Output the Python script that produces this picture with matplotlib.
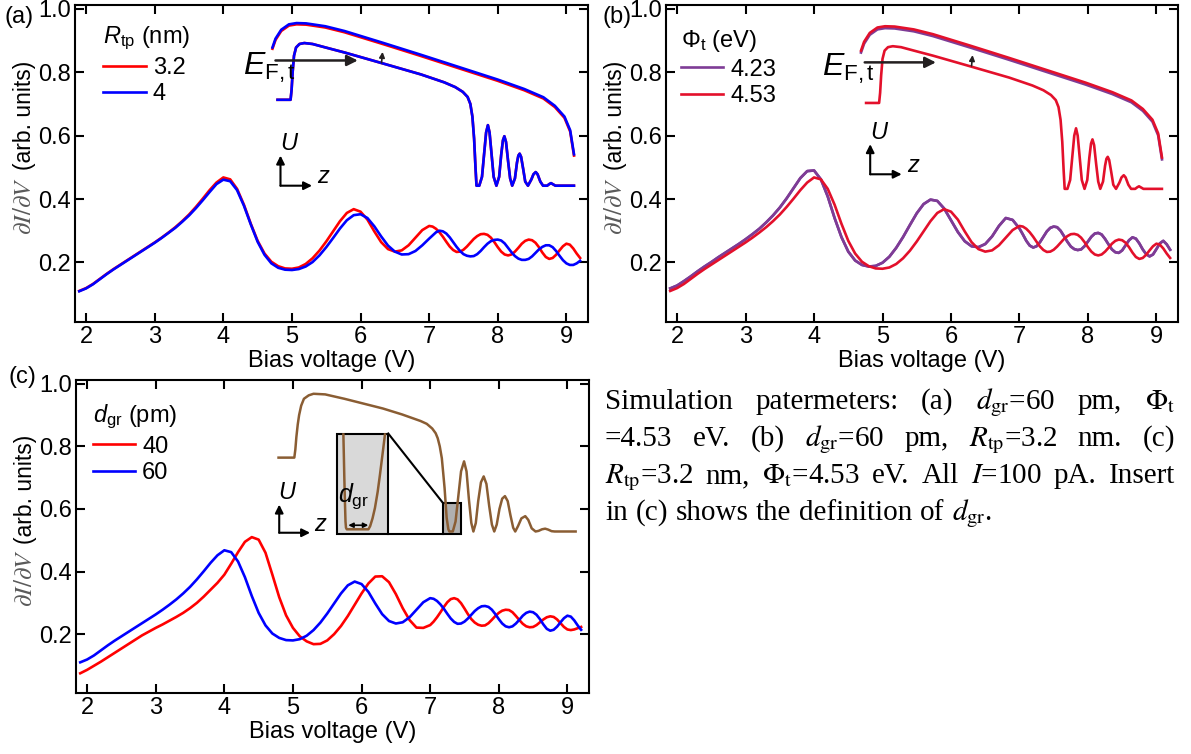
import matplotlib.pyplot as plt
from matplotlib.patches import Rectangle

plt.rcParams['font.family'] = ['Liberation Sans', 'DejaVu Sans']
plt.rcParams['mathtext.fontset'] = 'custom'
plt.rcParams['mathtext.rm'] = 'Liberation Sans'
plt.rcParams['mathtext.it'] = 'Liberation Sans:italic'
plt.rcParams['mathtext.bf'] = 'Liberation Sans:bold'
plt.rcParams['axes.linewidth'] = 1.5

# bias voltage grid (V)
bias_v = [1.9, 2.0, 2.1, 2.2, 2.3, 2.4, 2.5, 2.6, 2.7, 2.8,
          2.9, 3.0, 3.1, 3.2, 3.3, 3.4, 3.5, 3.6, 3.7, 3.8,
          3.9, 4.0, 4.1, 4.2, 4.3, 4.4, 4.5, 4.6, 4.7, 4.8,
          4.9, 5.0, 5.1, 5.2, 5.3, 5.4, 5.5, 5.6, 5.7, 5.8,
          5.9, 6.0, 6.1, 6.2, 6.3, 6.4, 6.5, 6.6, 6.7, 6.8,
          6.9, 7.0,
          7.05, 7.1, 7.15, 7.2, 7.25, 7.3, 7.35, 7.4, 7.45, 7.5,
          7.55, 7.6, 7.65, 7.7, 7.75, 7.8, 7.85, 7.9, 7.95, 8.0,
          8.05, 8.1, 8.15, 8.2, 8.25, 8.3, 8.35, 8.4, 8.45, 8.5,
          8.55, 8.6, 8.65, 8.7, 8.75, 8.8, 8.85, 8.9, 8.95, 9.0,
          9.05, 9.1, 9.15, 9.2]

# dI/dV for d_gr=60 pm, R_tp=3.2 nm, Phi_t=4.53 eV (shared by a, b, c)
didv_ref = [0.110, 0.119, 0.132, 0.148, 0.164, 0.179, 0.193, 0.207, 0.221, 0.235,
            0.249, 0.263, 0.278, 0.294, 0.311, 0.330, 0.351, 0.375, 0.401, 0.428,
            0.452, 0.468, 0.462, 0.432, 0.382, 0.322, 0.268, 0.228, 0.202, 0.188,
            0.181, 0.180, 0.184, 0.195, 0.213, 0.237, 0.266, 0.298, 0.330, 0.356,
            0.368, 0.360, 0.335, 0.298, 0.264, 0.242, 0.234, 0.238, 0.254, 0.278,
            0.302, 0.315,
            0.313, 0.306, 0.295, 0.281, 0.265, 0.250, 0.239, 0.233, 0.234, 0.240,
            0.250, 0.262, 0.274, 0.283, 0.289, 0.290, 0.287, 0.278, 0.264, 0.248,
            0.234, 0.225, 0.222, 0.225, 0.234, 0.246, 0.259, 0.268, 0.272, 0.270,
            0.262, 0.248, 0.231, 0.217, 0.211, 0.214, 0.224, 0.238, 0.251, 0.259,
            0.256, 0.244, 0.228, 0.214]

# (a) R_tp = 4 nm
didv_rtp4 = [0.109, 0.118, 0.131, 0.147, 0.163, 0.178, 0.192, 0.206, 0.220, 0.234,
             0.248, 0.262, 0.277, 0.293, 0.309, 0.328, 0.348, 0.371, 0.396, 0.422,
             0.447, 0.461, 0.456, 0.428, 0.379, 0.320, 0.265, 0.224, 0.197, 0.183,
             0.177, 0.176, 0.179, 0.187, 0.201, 0.222, 0.248, 0.277, 0.307, 0.333,
             0.349, 0.352, 0.340, 0.314, 0.282, 0.253, 0.234, 0.225, 0.226, 0.236,
             0.254, 0.275,
             0.285, 0.295, 0.300, 0.298, 0.291, 0.279, 0.264, 0.249, 0.236, 0.226,
             0.221, 0.219, 0.220, 0.226, 0.236, 0.248, 0.259, 0.267, 0.271, 0.272,
             0.269, 0.260, 0.246, 0.232, 0.220, 0.212, 0.208, 0.208, 0.211, 0.219,
             0.230, 0.241, 0.249, 0.254, 0.254, 0.248, 0.236, 0.221, 0.207, 0.197,
             0.192, 0.192, 0.197, 0.205]

# (b) Phi_t = 4.23 eV
didv_phi423 = [0.118, 0.127, 0.141, 0.156, 0.172, 0.187, 0.201, 0.216, 0.230, 0.244,
               0.258, 0.273, 0.289, 0.306, 0.326, 0.348, 0.373, 0.402, 0.434, 0.466,
               0.488, 0.490, 0.462, 0.408, 0.340, 0.280, 0.234, 0.206, 0.192, 0.187,
               0.189, 0.199, 0.218, 0.246, 0.280, 0.318, 0.355, 0.384, 0.398, 0.394,
               0.370, 0.333, 0.296, 0.267, 0.251, 0.248, 0.258, 0.282, 0.315, 0.340,
               0.334, 0.307,
               0.288, 0.268, 0.253, 0.247, 0.251, 0.264, 0.281, 0.298, 0.309, 0.313,
               0.311, 0.300, 0.283, 0.265, 0.250, 0.242, 0.239, 0.241, 0.251, 0.266,
               0.281, 0.291, 0.293, 0.288, 0.274, 0.257, 0.241, 0.232, 0.230, 0.238,
               0.254, 0.270, 0.279, 0.275, 0.260, 0.241, 0.226, 0.219, 0.225, 0.242,
               0.260, 0.268, 0.257, 0.240]

# (c) d_gr = 40 pm
didv_dgr40 = [0.075, 0.086, 0.099, 0.112, 0.126, 0.140, 0.154, 0.168, 0.182, 0.196,
              0.208, 0.220, 0.231, 0.243, 0.255, 0.268, 0.283, 0.300, 0.320, 0.342,
              0.364, 0.390, 0.425, 0.462, 0.495, 0.510, 0.502, 0.460, 0.390, 0.318,
              0.260, 0.220, 0.193, 0.177, 0.168, 0.169, 0.180, 0.200, 0.226, 0.258,
              0.294, 0.330, 0.362, 0.384, 0.385, 0.366, 0.328, 0.283, 0.245, 0.221,
              0.220, 0.229,
              0.240, 0.254, 0.270, 0.287, 0.302, 0.312, 0.315, 0.311, 0.299, 0.282,
              0.264, 0.248, 0.237, 0.230, 0.227, 0.228, 0.235, 0.246, 0.258, 0.268,
              0.275, 0.278, 0.277, 0.270, 0.258, 0.245, 0.233, 0.225, 0.222, 0.223,
              0.229, 0.238, 0.247, 0.254, 0.257, 0.255, 0.247, 0.235, 0.223, 0.215,
              0.213, 0.215, 0.219, 0.223]

# inset sketch: tunnelling barrier (upper) and barrier with graphene well (lower)
barrier_top_z = [4.716, 4.761, 4.844, 4.956, 5.067, 5.207, 5.486, 5.765, 6.322,
                 6.880, 7.438, 7.996, 8.386, 8.665, 8.832, 8.972, 9.055, 9.111]
barrier_top_u = [0.878, 0.906, 0.934, 0.951, 0.955, 0.954, 0.945, 0.930, 0.893,
                 0.855, 0.816, 0.777, 0.747, 0.721, 0.694, 0.660, 0.617, 0.541]

barrier_low_z = [4.79, 4.98, 4.995, 5.01, 5.03, 5.06, 5.11, 5.18, 5.30, 5.49,
                 5.77, 6.32, 6.88, 7.22, 7.38, 7.49, 7.56, 7.60, 7.63, 7.655,
                 7.675, 7.69, 7.73, 7.77, 7.80, 7.83, 7.856, 7.88, 7.91, 7.94,
                 7.98, 8.02, 8.05, 8.075, 8.096, 8.12, 8.15, 8.18, 8.21, 8.25,
                 8.28, 8.30, 8.319, 8.34, 8.37, 8.40, 8.44, 8.49, 8.52, 8.553,
                 8.58, 8.62, 8.66, 8.72, 8.75, 8.776, 8.80, 8.84, 8.89, 9.11]
barrier_low_u = [0.713, 0.713, 0.745, 0.800, 0.852, 0.878, 0.889, 0.892, 0.889, 0.878,
                 0.862, 0.828, 0.793, 0.768, 0.753, 0.738, 0.722, 0.700, 0.660, 0.590,
                 0.500, 0.442, 0.442, 0.470, 0.540, 0.610, 0.633, 0.610, 0.540, 0.470,
                 0.442, 0.470, 0.540, 0.585, 0.598, 0.580, 0.520, 0.465, 0.442, 0.465,
                 0.515, 0.537, 0.543, 0.533, 0.495, 0.455, 0.442, 0.462, 0.478, 0.485,
                 0.478, 0.455, 0.442, 0.442, 0.447, 0.450, 0.447, 0.442, 0.442, 0.442]

# (c) inset potential
pot_c_z = [4.79, 5.02, 5.035, 5.05, 5.07, 5.09, 5.12, 5.16, 5.23, 5.30,
           5.47, 5.75, 6.31, 6.59, 6.86, 6.95, 7.03, 7.08, 7.11, 7.14,
           7.17, 7.19, 7.21, 7.24, 7.265, 7.28, 7.33, 7.37, 7.41, 7.45,
           7.494, 7.53, 7.565, 7.60, 7.63, 7.665, 7.70, 7.74, 7.78, 7.82,
           7.86, 7.90, 7.934, 7.97, 8.01, 8.05, 8.09, 8.13, 8.17, 8.21,
           8.24, 8.28, 8.33, 8.386, 8.43, 8.48, 8.536, 8.58, 8.63, 8.676,
           8.72, 8.77, 8.815, 9.12]
pot_c_u = [0.764, 0.764, 0.790, 0.830, 0.870, 0.900, 0.930, 0.952, 0.963, 0.968,
           0.966, 0.952, 0.921, 0.902, 0.881, 0.872, 0.857, 0.842, 0.826, 0.800,
           0.762, 0.715, 0.667, 0.572, 0.535, 0.528, 0.528, 0.560, 0.640, 0.720,
           0.752, 0.720, 0.630, 0.555, 0.528, 0.555, 0.625, 0.685, 0.704, 0.680,
           0.610, 0.550, 0.528, 0.550, 0.600, 0.633, 0.641, 0.625, 0.580, 0.540,
           0.528, 0.545, 0.570, 0.577, 0.565, 0.538, 0.528, 0.530, 0.535, 0.537,
           0.534, 0.529, 0.528, 0.528]

# magnified well drawn inside the big grey box
well_z = [5.735, 5.742, 5.749, 5.758, 5.766, 5.773, 5.785, 6.100, 6.125, 6.160,
          6.195, 6.235, 6.268, 6.300, 6.316, 6.341]
well_u = [0.838, 0.770, 0.698, 0.620, 0.560, 0.540, 0.535, 0.535, 0.545, 0.570,
          0.603, 0.655, 0.709, 0.765, 0.793, 0.838]

RED = '#ff0000'
BLUE = '#0000ff'
PURPLE = '#7e3c96'
CRIMSON = '#e3102b'
BROWN = '#8a5d33'
DARK = '#231f20'
FS = 17

fig = plt.figure(figsize=(11.91, 7.54), dpi=100)
W, H = 1191, 754
ax_a = fig.add_axes([75 / W, 1 - 322 / H, 513 / W, 317 / H])
ax_b = fig.add_axes([666 / W, 1 - 322 / H, 512 / W, 317 / H])
ax_c = fig.add_axes([76 / W, 1 - 693 / H, 513 / W, 313 / H])


def style(ax):
    ax.set_xlim(1.838, 9.315)
    ax.set_ylim(0.012, 1.012)
    ax.set_xticks(range(2, 10))
    ax.set_yticks([0.2, 0.4, 0.6, 0.8, 1.0])
    ax.set_yticklabels(['0.2', '0.4', '0.6', '0.8', '1.0'])
    ax.tick_params(direction='in', top=True, right=True, length=6.5, width=1.5,
                   labelsize=FS, pad=3)
    ax.set_xlabel('Bias voltage (V)', fontsize=FS, labelpad=1)
    ax.text(-0.099, 0.366, r'$\partial I/\partial V$', transform=ax.transAxes,
            rotation=90, ha='center', va='center', fontsize=18, color='#5a5a5a',
            math_fontfamily='stix')
    ax.text(-0.099, 0.652, '(arb. units)', transform=ax.transAxes,
            rotation=90, ha='center', va='center', fontsize=16.5)


def uz_axes(ax, x0, y0, dx, dy, u_xy, z_xy):
    ap = dict(arrowstyle='-|>', color='k', lw=1.5, mutation_scale=12,
              shrinkA=0, shrinkB=0)
    ax.annotate('', xy=(x0, y0 + dy), xytext=(x0, y0), arrowprops=ap)
    ax.annotate('', xy=(x0 + dx, y0), xytext=(x0, y0), arrowprops=ap)
    ax.text(u_xy[0], u_xy[1], '$U$', fontsize=17, ha='center', va='center')
    ax.text(z_xy[0], z_xy[1], '$z$', fontsize=17, ha='center', va='center')


def fermi_arrow(ax, x0, x1, y, e_xy, tick_xy):
    ax.annotate('', xy=(x1, y), xytext=(x0, y),
                arrowprops=dict(arrowstyle='-|>', color=DARK, lw=1.8,
                                mutation_scale=16, shrinkA=0, shrinkB=0))
    ax.annotate('', xy=(tick_xy[0] + 0.015, tick_xy[1] + 0.034), xytext=tick_xy,
                arrowprops=dict(arrowstyle='-|>', color=DARK, lw=1.2,
                                mutation_scale=8, shrinkA=0, shrinkB=0))
    ax.text(e_xy[0], e_xy[1], r'$E_{\mathrm{F,t}}$', fontsize=23,
            ha='center', va='center')


def legend(ax, handles, labels, title, anchor):
    ax.legend(handles, labels, title=title, loc='upper left',
              bbox_to_anchor=anchor, bbox_transform=ax.transData,
              frameon=False, fontsize=FS, title_fontsize=FS,
              handlelength=1.8, handletextpad=0.3, labelspacing=0.2,
              borderpad=0, borderaxespad=0, alignment='left')


for ax in (ax_a, ax_b, ax_c):
    style(ax)

# ---- (a)
la1, = ax_a.plot(bias_v, didv_ref, color=RED, lw=1.9)
la2, = ax_a.plot(bias_v, didv_rtp4, color=BLUE, lw=1.9)
legend(ax_a, [la1, la2], ['3.2', '4'], r'$R_{\mathrm{tp}}$ (nm)', (2.25, 0.95))
ax_a.plot(barrier_top_z, [u - 0.004 for u in barrier_top_u], color=RED, lw=1.9)
ax_a.plot(barrier_top_z, barrier_top_u, color=BLUE, lw=1.9)
ax_a.plot(barrier_low_z, barrier_low_u, color=RED, lw=1.9)
ax_a.plot(barrier_low_z, barrier_low_u, color=BLUE, lw=1.9)
fermi_arrow(ax_a, 4.76, 5.96, 0.837, (4.67, 0.815), (6.306, 0.830))
uz_axes(ax_a, 4.833, 0.442, 0.46, 0.095, (4.96, 0.575), (5.46, 0.469))

# ---- (b)
dz, du = -0.03, -0.01
lb1, = ax_b.plot(bias_v, didv_phi423, color=PURPLE, lw=1.9)
lb2, = ax_b.plot(bias_v, didv_ref, color=CRIMSON, lw=1.9)
ax_b.plot(bias_v, didv_phi423, color=PURPLE, lw=1.9, zorder=1.9)
legend(ax_b, [lb1, lb2], ['4.23', '4.53'], r'$\Phi_{\mathrm{t}}$ (eV)', (2.05, 0.94))
ax_b.plot([z + dz for z in barrier_top_z], [u + du - 0.006 for u in barrier_top_u],
          color=PURPLE, lw=1.9)
ax_b.plot([z + dz for z in barrier_top_z], [u + du for u in barrier_top_u],
          color=CRIMSON, lw=1.9)
ax_b.plot([z + dz for z in barrier_low_z], [u + du for u in barrier_low_u],
          color=CRIMSON, lw=1.9)
fermi_arrow(ax_b, 4.74, 5.78, 0.831, (4.51, 0.812), (6.30, 0.820))
uz_axes(ax_b, 4.82, 0.478, 0.46, 0.095, (4.95, 0.609), (5.45, 0.504))

# ---- (c)
lc1, = ax_c.plot(bias_v, didv_dgr40, color=RED, lw=1.9)
lc2, = ax_c.plot(bias_v, didv_ref, color=BLUE, lw=1.9)
legend(ax_c, [lc1, lc2], ['40', '60'], r'$d_{\mathrm{gr}}$ (pm)', (2.08, 0.94))
ax_c.add_patch(Rectangle((5.647, 0.519), 0.742, 0.322, facecolor='#d9d9d9',
                         edgecolor='k', lw=1.5, zorder=2))
ax_c.add_patch(Rectangle((7.187, 0.519), 0.262, 0.100, facecolor='#b0b0b0',
                         edgecolor='k', lw=1.5, zorder=2))
ax_c.plot([6.389, 7.187], [0.519, 0.519], color='k', lw=1.5, zorder=2)
ax_c.plot([6.389, 7.187], [0.841, 0.619], color='k', lw=1.5, zorder=2)
ax_c.plot(pot_c_z, pot_c_u, color=BROWN, lw=1.8, zorder=3)
ax_c.plot(well_z, well_u, color=BROWN, lw=1.8, zorder=3)
ax_c.annotate('', xy=(6.098, 0.548), xytext=(5.807, 0.548),
              arrowprops=dict(arrowstyle='<|-|>', color='k', lw=1.2,
                              mutation_scale=7, shrinkA=0, shrinkB=0), zorder=4)
ax_c.text(5.89, 0.64, r'$d_{\mathrm{gr}}$', fontsize=18, ha='center', va='center', zorder=4)
uz_axes(ax_c, 4.80, 0.524, 0.45, 0.09, (4.92, 0.651), (5.41, 0.55))

# panel letters
fig.text(5 / W, 1 - 17 / H, '(a)', fontsize=FS, va='center')
fig.text(603 / W, 1 - 17 / H, '(b)', fontsize=FS, va='center')
fig.text(9 / W, 1 - 377 / H, '(c)', fontsize=FS, va='center')

# caption block (justified)
renderer = fig.canvas.get_renderer()
CAP = 21


def caption_line(words, base_px, x0=605, x1=1175, justify=True):
    ts = [fig.text(0, 1 - base_px / H, w, fontsize=CAP, family='Liberation Serif',
                   math_fontfamily='stix', va='baseline') for w in words]
    widths = [t.get_window_extent(renderer).width for t in ts]
    if justify:
        gap = (x1 - x0 - sum(widths)) / (len(ts) - 1)
    else:
        gap = 0.26 * CAP * 100 / 72
    x = x0
    for t, w in zip(ts, widths):
        t.set_x(x / W)
        x += w + gap


caption_line(['Simulation', 'patermeters:', '(a)', r'$d_{\mathrm{gr}}$=60', 'pm,',
              r'$\Phi_{\mathrm{t}}$'], 409)
caption_line(['=4.53', 'eV.', '(b)', r'$d_{\mathrm{gr}}$=60', 'pm,',
              r'$R_{\mathrm{tp}}$=3.2', 'nm.', '(c)'], 446)
caption_line([r'$R_{\mathrm{tp}}$=3.2', 'nm,', r'$\Phi_{\mathrm{t}}$=4.53', 'eV.',
              'All', r'$I$=100', 'pA.', 'Insert'], 483)
caption_line(['in', '(c)', 'shows', 'the', 'definition', 'of',
              r'$d_{\mathrm{gr}}$.'], 520, justify=False)

fig.savefig('out.png', dpi=100)
